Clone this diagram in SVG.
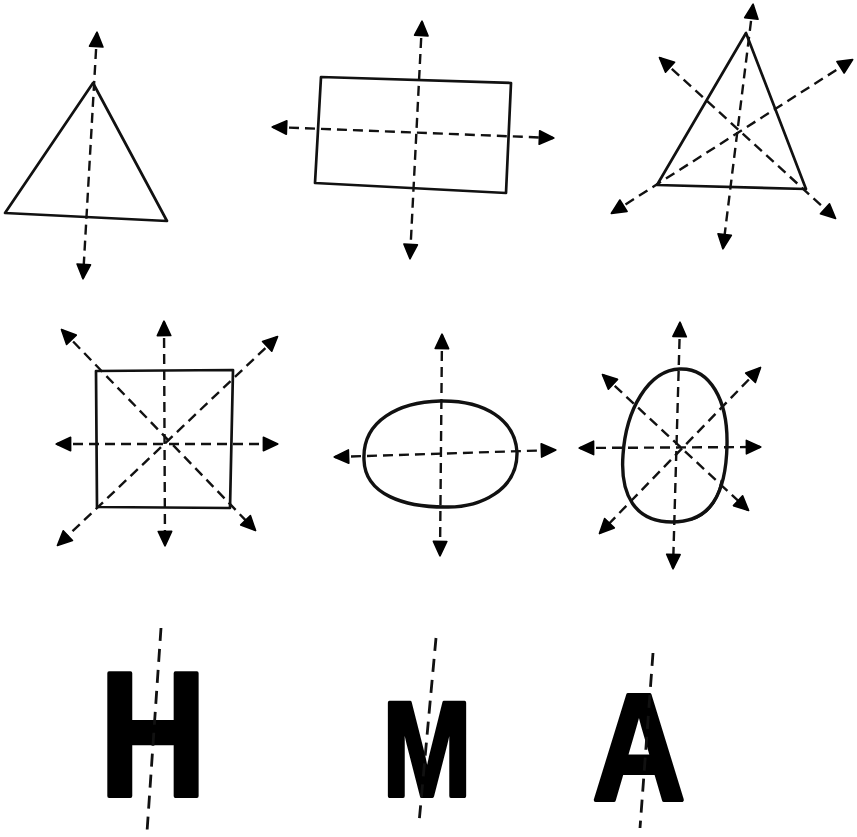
<svg xmlns="http://www.w3.org/2000/svg" width="857" height="837" viewBox="0 0 857 837">
<defs>
<marker id="ah" viewBox="0 0 10 10" refX="9" refY="5" markerWidth="17" markerHeight="16" markerUnits="userSpaceOnUse" orient="auto-start-reverse">
<path d="M0.5,0.8 L9.5,5 L0.5,9.2 z" fill="#000" stroke="#000" stroke-width="1" stroke-linejoin="round"/>
</marker>
<style>
.shape{fill:none;stroke:#111;stroke-width:2.7;stroke-linejoin:round}
.bold{stroke-width:3.4}
.axis{fill:none;stroke:#111;stroke-width:2.4;stroke-dasharray:10 6;marker-start:url(#ah);marker-end:url(#ah)}
.cut{fill:none;stroke:#111;stroke-width:2.8;stroke-dasharray:13 8}
.letter{font-family:"Liberation Sans",Arial,sans-serif;font-weight:bold;fill:#000;stroke:#000;stroke-width:4;stroke-linejoin:round;text-anchor:middle}
</style>
</defs>
<rect width="857" height="837" fill="#fff"/>
<g id="nodes">
<g id="triangle1"><path class="shape" d="M93,83 L5,213 L167,221 Z"/></g>
<g id="rectangle"><path class="shape" d="M321,77 L511,83 L506,193 L315,183 Z"/></g>
<g id="triangle2"><path class="shape" d="M746,33 L657,185 L806,189 Z"/></g>
<g id="square"><path class="shape" d="M96,371 L233,370 L230,508 L97,507 Z"/></g>
<g id="oval1"><path class="shape bold" d="M440,401 C485,400 515,420 517,452 C518,490 480,508 445,507 C405,507 365,495 364,460 C362,420 400,402 440,401 Z"/></g>
<g id="oval2"><path class="shape bold" d="M680,369 C710,368 728,400 727,445 C726,495 710,522 672,522 C635,522 620,495 623,455 C626,410 648,370 680,369 Z"/><path class="shape" d="M722,480 C718,500 708,515 690,520"/></g>
<g id="letterH"><text class="letter" transform="translate(153,796) scale(0.86,1.02)" font-size="174">H</text></g>
<g id="letterM"><text class="letter" transform="translate(427,796) scale(0.79,1)" font-size="136">M</text></g>
<g id="letterA"><text class="letter" transform="translate(639,800) scale(0.85,1)" font-size="152">A</text></g>
</g>
<g id="connectors">
<line class="axis" x1="97" y1="33" x2="83" y2="278"/>
<line class="axis" x1="422" y1="22" x2="410" y2="258"/>
<line class="axis" x1="273" y1="127" x2="553" y2="138"/>
<line class="axis" x1="753" y1="5" x2="723" y2="248"/>
<line class="axis" x1="660" y1="58" x2="835" y2="218"/>
<line class="axis" x1="612" y1="213" x2="852" y2="60"/>
<line class="axis" x1="164" y1="322" x2="165" y2="545"/>
<line class="axis" x1="57" y1="444" x2="277" y2="444"/>
<line class="axis" x1="62" y1="330" x2="255" y2="530"/>
<line class="axis" x1="277" y1="337" x2="58" y2="545"/>
<line class="axis" x1="442" y1="335" x2="440" y2="555"/>
<line class="axis" x1="335" y1="457" x2="555" y2="450"/>
<line class="axis" x1="680" y1="323" x2="673" y2="568"/>
<line class="axis" x1="580" y1="448" x2="760" y2="447"/>
<line class="axis" x1="603" y1="375" x2="748" y2="510"/>
<line class="axis" x1="760" y1="368" x2="600" y2="533"/>
<line class="cut" x1="161" y1="628" x2="147" y2="832"/>
<line class="cut" x1="436" y1="638" x2="419" y2="823"/>
<line class="cut" x1="653" y1="653" x2="640" y2="828"/>
</g>
</svg>
